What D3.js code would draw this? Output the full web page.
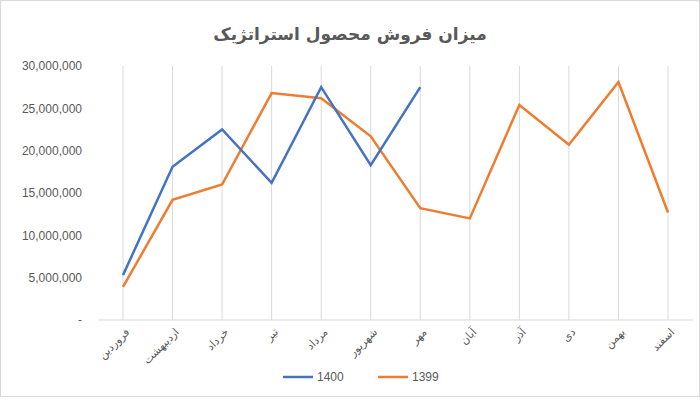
<!DOCTYPE html><html><head><meta charset="utf-8"><script src="https://cdn.jsdelivr.net/npm/d3@7"></script>
<style>body{margin:0;background:#fff}</style></head><body><svg id="c" width="700" height="400"></svg><script>
const categories=["فروردین","اردیبهشت","خرداد","تیر","مرداد","شهریور","مهر","آبان","آذر","دی","بهمن","اسفند"];
const s1400=[5300000,18100000,22500000,16200000,27500000,18300000,27500000];
const s1399=[3900000,14200000,16000000,26800000,26200000,21700000,13200000,12000000,25400000,20700000,28100000,12700000];
const yTicks=[0,5000000,10000000,15000000,20000000,25000000,30000000];
const svg=d3.select("#c");
svg.append("rect").attr("x",0.5).attr("y",0.5).attr("width",699).attr("height",396).attr("fill","#fff").attr("stroke","#d9d9d9");
const x=d3.scalePoint().domain(categories).range([123,668]);
const y=d3.scaleLinear().domain([0,30000000]).range([320,66]);
svg.append("text").attr("x",350).attr("y",40).attr("text-anchor","middle").attr("font-family","DejaVu Sans").attr("font-weight","bold").attr("font-size",17).attr("fill","#595959").text("میزان فروش محصول استراتژیک");
const g=svg.append("g");
g.selectAll(".vg").data(categories).join("line").attr("x1",d=>x(d)).attr("x2",d=>x(d)).attr("y1",66).attr("y2",320).attr("stroke","#d9d9d9");
svg.append("line").attr("x1",98).attr("x2",693).attr("y1",320).attr("y2",320).attr("stroke","#d9d9d9");
const ya=svg.append("g").attr("transform","translate(85,0)").call(d3.axisLeft(y).tickValues(yTicks).tickSize(0).tickFormat(d=>d===0?"-":d3.format(",")(d)));
ya.select(".domain").remove();
ya.selectAll("text").attr("font-family","Liberation Sans").attr("font-size",12).attr("fill","#595959");
const xa=svg.append("g").attr("transform","translate(0,320)").call(d3.axisBottom(x).tickSize(0));
xa.select(".domain").remove();
xa.selectAll("text").attr("font-family","DejaVu Sans").attr("font-size",11).attr("fill","#595959").attr("text-anchor","end").attr("x",0).attr("y",0).attr("dy","0.35em").attr("transform","translate(4,10) rotate(-45)");
const line=d3.line().x((d,i)=>x(categories[i])).y(d=>y(d));
svg.append("path").datum(s1399).attr("d",line).attr("fill","none").attr("stroke","#ED7D31").attr("stroke-width",2.5);
svg.append("path").datum(s1400).attr("d",line).attr("fill","none").attr("stroke","#4472C4").attr("stroke-width",2.5);
const leg=[["1400","#4472C4",283],["1399","#ED7D31",378]];
leg.forEach(([t,c,lx])=>{svg.append("line").attr("x1",lx).attr("x2",lx+30).attr("y1",377).attr("y2",377).attr("stroke",c).attr("stroke-width",2.5);
svg.append("text").attr("x",lx+34).attr("y",381).attr("font-family","Liberation Sans").attr("font-size",12).attr("fill","#595959").text(t);});
</script></body></html>
